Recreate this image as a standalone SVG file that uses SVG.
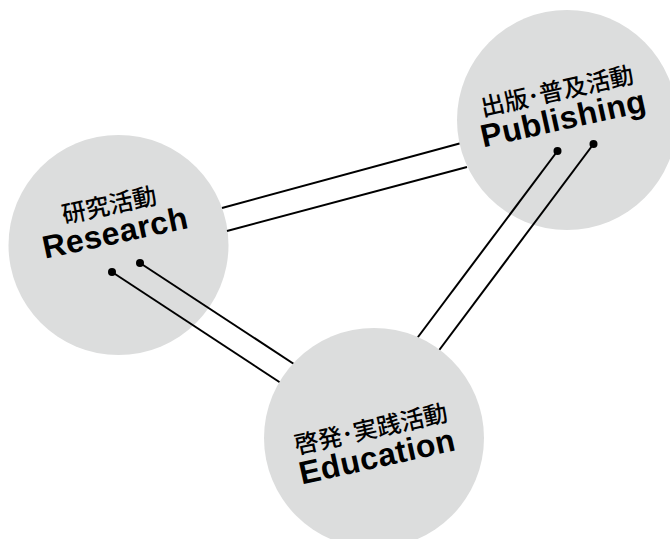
<svg xmlns="http://www.w3.org/2000/svg" width="670" height="539" viewBox="0 0 670 539">
<style>
.circle{fill:#dcdddd;}
.conn{stroke:#000;stroke-width:2;fill:none;}
.dot{fill:#000;}
.en{font-family:"Liberation Sans",Arial,sans-serif;font-weight:bold;font-size:32px;letter-spacing:0.5px;text-anchor:middle;fill:#000;}
.jp{font-family:"Noto Sans CJK JP","Noto Sans",sans-serif;font-weight:500;font-size:24px;letter-spacing:0px;text-anchor:middle;fill:#000;}
</style>
<rect width="670" height="539" fill="#fff"/>
<g id="research">
<circle class="circle" cx="118.5" cy="245" r="110"/>
<g transform="translate(115,232) rotate(-12)">
<text class="jp" x="0" y="-19" letter-spacing="0.5">研究活動</text>
<text class="en" x="0" y="11.5">Research</text>
</g>
</g>
<g id="publishing">
<circle class="circle" cx="567" cy="120" r="110"/>
<g transform="translate(563,118) rotate(-12.5)">
<text class="jp" x="0" y="-19">出版･普及活動</text>
<text class="en" x="0" y="11.5">Publishing</text>
</g>
</g>
<g id="connectors">
<line class="conn" x1="222" y1="208" x2="459.5" y2="143.5"/>
<line class="conn" x1="227" y1="231" x2="467" y2="167"/>
<line class="conn" x1="112" y1="272" x2="290" y2="389"/>
<line class="conn" x1="140" y1="263" x2="300" y2="368"/>
<line class="conn" x1="557.5" y1="151" x2="412" y2="345"/>
<line class="conn" x1="593.5" y1="144" x2="434" y2="357"/>
<circle class="dot" cx="112" cy="272" r="4"/>
<circle class="dot" cx="140" cy="263" r="4"/>
<circle class="dot" cx="557.5" cy="151" r="4"/>
<circle class="dot" cx="593.5" cy="144" r="4"/>
</g>
<g id="education">
<circle class="circle" cx="374" cy="438" r="110"/>
<g transform="translate(377,456) rotate(-12.5)">
<text class="jp" x="0" y="-19">啓発･実践活動</text>
<text class="en" x="0" y="11.5">Education</text>
</g>
</g>
</svg>
